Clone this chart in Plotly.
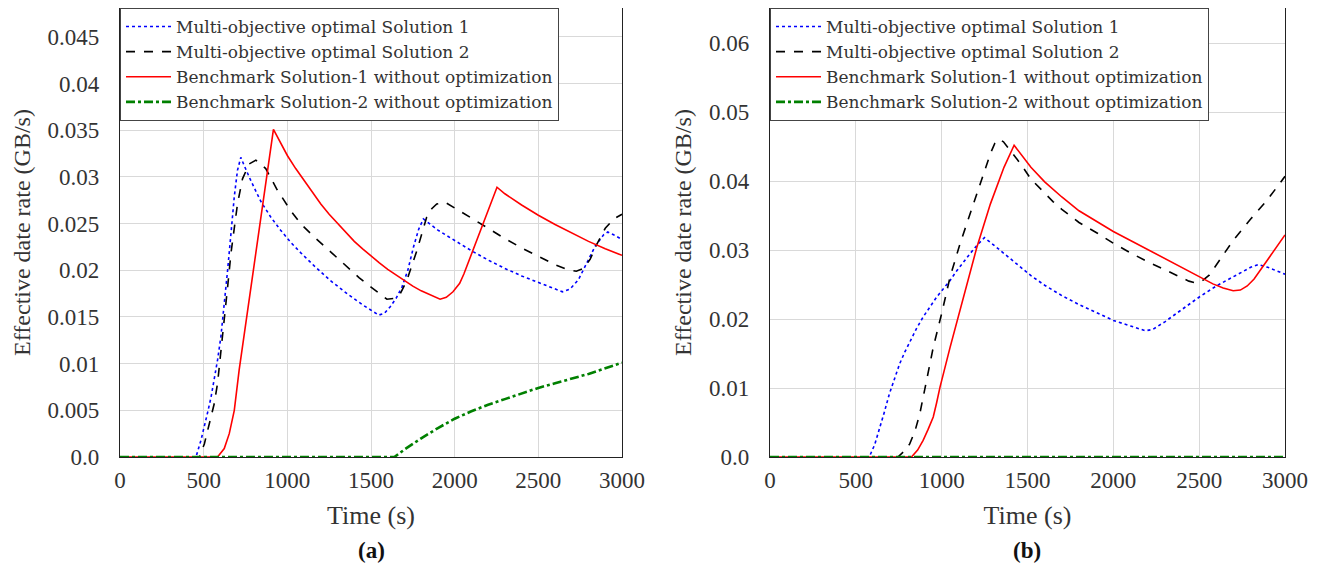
import plotly.graph_objects as go

# ---------------- data: panel (a) ----------------
sol1_a_t = [0, 454, 484, 504, 524, 544, 563, 583, 603, 623, 643, 663, 683, 702, 722, 750, 782, 841, 901, 960,
            1020, 1079, 1159, 1257, 1357, 1450, 1500, 1546, 1580, 1615, 1650, 1685, 1720, 1754, 1785, 1813, 1900,
            2000, 2100, 2200, 2300, 2400, 2500, 2600, 2644, 2690, 2740, 2790, 2840, 2890, 2915, 2950, 3000]
sol1_a_y = [0, 0, 0.0018, 0.0032, 0.0048, 0.0064, 0.0082, 0.0104, 0.0129, 0.0161, 0.0200, 0.0239, 0.0279,
            0.0307, 0.0321, 0.0309, 0.0296, 0.0274, 0.0257, 0.0243, 0.0230, 0.0219, 0.0205, 0.0189, 0.0175,
            0.0163, 0.0157, 0.0152, 0.0154, 0.0161, 0.0170, 0.0182, 0.0200, 0.0225, 0.0244, 0.0255, 0.0243,
            0.0232, 0.0221, 0.0211, 0.0202, 0.0194, 0.0187, 0.0180, 0.0177, 0.0180, 0.0190, 0.0208, 0.0226,
            0.0238, 0.0241, 0.0238, 0.0233]

sol2_a_t = [0, 474, 504, 524, 544, 563, 583, 603, 623, 643, 663, 683, 702, 732, 772, 812, 871, 940, 1020, 1079,
            1159, 1257, 1357, 1430, 1500, 1550, 1595, 1640, 1675, 1714, 1744, 1774, 1805, 1833, 1863, 1893, 1942,
            2000, 2100, 2200, 2300, 2400, 2500, 2600, 2670, 2727, 2770, 2810, 2850, 2900, 2950, 3000]
sol2_a_y = [0, 0, 0.0014, 0.0029, 0.0043, 0.0057, 0.0079, 0.0111, 0.0146, 0.0182, 0.0218, 0.0246, 0.0271,
            0.0298, 0.0314, 0.0318, 0.0309, 0.0286, 0.0264, 0.0250, 0.0236, 0.0220, 0.0204, 0.0192, 0.0182,
            0.0175, 0.0169, 0.0170, 0.0175, 0.0189, 0.0204, 0.0221, 0.0240, 0.0257, 0.0266, 0.0271, 0.0273,
            0.0267, 0.0256, 0.0245, 0.0234, 0.0224, 0.0215, 0.0206, 0.0201, 0.0199, 0.0202, 0.0212, 0.0228,
            0.0245, 0.0255, 0.0260]

bench1_a_t = [0, 583, 623, 653, 683, 702, 712, 917, 950, 1000, 1050, 1100, 1150, 1200, 1250, 1300, 1350, 1400,
              1450, 1500, 1550, 1600, 1650, 1700, 1750, 1800, 1850, 1880, 1913, 1950, 1990, 2030, 2055, 2253,
              2300, 2400, 2500, 2600, 2700, 2800, 2900, 3000]
bench1_a_y = [0, 0, 0.0009, 0.0025, 0.0050, 0.0075, 0.0093, 0.0351, 0.0340, 0.0323, 0.0309, 0.0296, 0.0283,
              0.0271, 0.0260, 0.0250, 0.0240, 0.0231, 0.0223, 0.0215, 0.0208, 0.0201, 0.0195, 0.0189, 0.0183,
              0.0178, 0.0174, 0.0171, 0.0169, 0.0171, 0.0177, 0.0186, 0.0196, 0.0289, 0.0282, 0.0270, 0.0259,
              0.0249, 0.0240, 0.0231, 0.0223, 0.0216]

bench2_a_t = [0, 1640, 1700, 1800, 1900, 2000, 2100, 2200, 2300, 2400, 2500, 2600, 2700, 2800, 2900, 3000]
bench2_a_y = [0, 0, 0.0008, 0.0020, 0.0031, 0.0041, 0.0049, 0.0056, 0.0062, 0.0068, 0.0074, 0.0079, 0.0084,
              0.0089, 0.0095, 0.0101]

# ---------------- data: panel (b) ----------------
sol1_b_t = [0, 578, 610, 637, 666, 696, 725, 755, 785, 814, 853, 892, 931, 971, 1010, 1049, 1088, 1127, 1166,
            1206, 1249, 1300, 1363, 1440, 1520, 1600, 1700, 1800, 1910, 2000, 2100, 2186, 2230, 2300, 2400,
            2501, 2600, 2700, 2800, 2846, 2900, 3000]
sol1_b_y = [0, 0, 0.0018, 0.0039, 0.0065, 0.0092, 0.0114, 0.0135, 0.0152, 0.0167, 0.0186, 0.0203, 0.0218,
            0.0232, 0.0244, 0.0256, 0.0270, 0.0283, 0.0295, 0.0307, 0.0318, 0.0308, 0.0295, 0.0279, 0.0263,
            0.0249, 0.0234, 0.0221, 0.0208, 0.0198, 0.0190, 0.0183, 0.0185, 0.0196, 0.0214, 0.0232, 0.0248,
            0.0262, 0.0275, 0.0279, 0.0275, 0.0265]

sol2_b_t = [0, 745, 780, 814, 845, 873, 912, 951, 1000, 1049, 1108, 1167, 1225, 1284, 1310, 1333, 1360, 1402,
            1460, 1520, 1600, 1650, 1700, 1750, 1800, 1910, 2000, 2100, 2200, 2304, 2400, 2440, 2472, 2510,
            2560, 2600, 2698, 2800, 2895, 3000]
sol2_b_y = [0, 0, 0.0008, 0.0019, 0.0038, 0.0063, 0.0111, 0.0159, 0.0208, 0.0261, 0.0310, 0.0353, 0.0396,
            0.0440, 0.0455, 0.0461, 0.0457, 0.0444, 0.0425, 0.0403, 0.0382, 0.0370, 0.0359, 0.0349, 0.0340,
            0.0324, 0.0310, 0.0296, 0.0283, 0.0271, 0.0260, 0.0255, 0.0253, 0.0254, 0.0264, 0.0278, 0.0314,
            0.0345, 0.0372, 0.0407]

bench1_b_t = [0, 824, 860, 892, 921, 951, 970, 990, 1049, 1127, 1206, 1284, 1363, 1422, 1470, 1520, 1600, 1700,
              1800, 1910, 2000, 2100, 2200, 2300, 2400, 2500, 2580, 2640, 2698, 2740, 2780, 2820, 2860, 2900,
              2950, 3000]
bench1_b_y = [0, 0, 0.0010, 0.0024, 0.0040, 0.0058, 0.0078, 0.0101, 0.0159, 0.0232, 0.0305, 0.0367, 0.0420,
              0.0452, 0.0436, 0.0420, 0.0399, 0.0377, 0.0357, 0.0340, 0.0327, 0.0314, 0.0301, 0.0288, 0.0275,
              0.0261, 0.0251, 0.0245, 0.0241, 0.0242, 0.0248, 0.0258, 0.0272, 0.0287, 0.0304, 0.0322]

bench2_b_t = [0, 3000]
bench2_b_y = [0, 0]

# ---------------- labels / ticks ----------------
series_names = ["Multi-objective optimal Solution 1",
                "Multi-objective optimal Solution 2",
                "Benchmark Solution-1 without optimization",
                "Benchmark Solution-2 without optimization"]
x_ticks = [0, 500, 1000, 1500, 2000, 2500, 3000]
y_ticks_a = [0, 0.005, 0.01, 0.015, 0.02, 0.025, 0.03, 0.035, 0.04, 0.045]
y_text_a = ["0.0", "0.005", "0.01", "0.015", "0.02", "0.025", "0.03", "0.035", "0.04", "0.045"]
y_ticks_b = [0, 0.01, 0.02, 0.03, 0.04, 0.05, 0.06]
y_text_b = ["0.0", "0.01", "0.02", "0.03", "0.04", "0.05", "0.06"]
x_title = "Time (s)"
y_title = "Effective date rate (GB/s)"
panel_labels = ["(a)", "(b)"]

# page has an 8px body margin; the figure is sized to fit the 1322x572 window
OFF = 8
FW, FH = 1322 - OFF, 572 - OFF


def px_x(p):
    return (p - OFF) / FW


def px_y(p):
    return 1 - (p - OFF) / FH


FONT = "Liberation Serif"
LEG_FONT = "DejaVu Serif"
TXT = "#333333"

styles = [dict(color="#0000ff", dash="dot", width=1.6),
          dict(color="#000000", dash="dash", width=1.6),
          dict(color="#ff0000", dash="solid", width=1.6),
          dict(color="#008000", dash="dashdot", width=2.6)]

fig = go.Figure()
panel_a = [(sol1_a_t, sol1_a_y), (sol2_a_t, sol2_a_y), (bench1_a_t, bench1_a_y), (bench2_a_t, bench2_a_y)]
panel_b = [(sol1_b_t, sol1_b_y), (sol2_b_t, sol2_b_y), (bench1_b_t, bench1_b_y), (bench2_b_t, bench2_b_y)]

for i, (t, y) in enumerate(panel_a):
    fig.add_trace(go.Scatter(x=t, y=y, mode="lines", name=series_names[i], line=styles[i],
                             xaxis="x", yaxis="y", legend="legend"))
for i, (t, y) in enumerate(panel_b):
    fig.add_trace(go.Scatter(x=t, y=y, mode="lines", name=series_names[i], line=styles[i],
                             xaxis="x2", yaxis="y2", legend="legend2"))

ydom = [px_y(457), px_y(8)]
common_x = dict(range=[0, 3000], tickvals=x_ticks, showgrid=True, gridcolor="#d9d9d9", gridwidth=1.3,
                showline=True, linecolor="#222222", linewidth=1.2, mirror=True, zeroline=False,
                ticks="", ticklabelstandoff=2, automargin=False,
                tickfont=dict(family=FONT, size=23, color=TXT),
                title=dict(text=x_title, font=dict(family=FONT, size=26, color=TXT), standoff=14))
common_y = dict(showgrid=True, gridcolor="#d9d9d9", gridwidth=1.3,
                showline=True, linecolor="#222222", linewidth=1.2, mirror=True, zeroline=False,
                ticks="", ticklabelstandoff=15, automargin=False,
                tickfont=dict(family=FONT, size=23, color=TXT),
                title=dict(text=y_title, font=dict(family=FONT, size=24, color=TXT), standoff=10))

legend_common = dict(xanchor="left", yanchor="top", xref="paper", yref="paper",
                     bgcolor="white", bordercolor="#444444", borderwidth=1,
                     font=dict(family=LEG_FONT, size=17, color=TXT), tracegroupgap=0, itemwidth=45)

fig.update_layout(
    width=FW, height=FH, margin=dict(l=0, r=0, t=0, b=0, autoexpand=False),
    paper_bgcolor="white", plot_bgcolor="white", showlegend=True,
    xaxis=dict(domain=[px_x(120), px_x(622)], anchor="y", **common_x),
    yaxis=dict(domain=ydom, anchor="x", range=[0, 0.0481], tickvals=y_ticks_a, ticktext=y_text_a, **common_y),
    xaxis2=dict(domain=[px_x(770), px_x(1285)], anchor="y2", **common_x),
    yaxis2=dict(domain=ydom, anchor="x2", range=[0, 0.0651], tickvals=y_ticks_b, ticktext=y_text_b, **common_y),
    legend=dict(x=px_x(120), y=px_y(8), **legend_common),
    legend2=dict(x=px_x(770), y=px_y(8), **legend_common),
    annotations=[
        dict(text="<b>" + panel_labels[0] + "</b>", x=px_x(371), y=px_y(550), xref="paper", yref="paper",
             xanchor="center", yanchor="middle", showarrow=False,
             font=dict(family=FONT, size=23, color="#111111")),
        dict(text="<b>" + panel_labels[1] + "</b>", x=px_x(1027), y=px_y(550), xref="paper", yref="paper",
             xanchor="center", yanchor="middle", showarrow=False,
             font=dict(family=FONT, size=23, color="#111111")),
    ],
)

fig.write_html("out.html")
